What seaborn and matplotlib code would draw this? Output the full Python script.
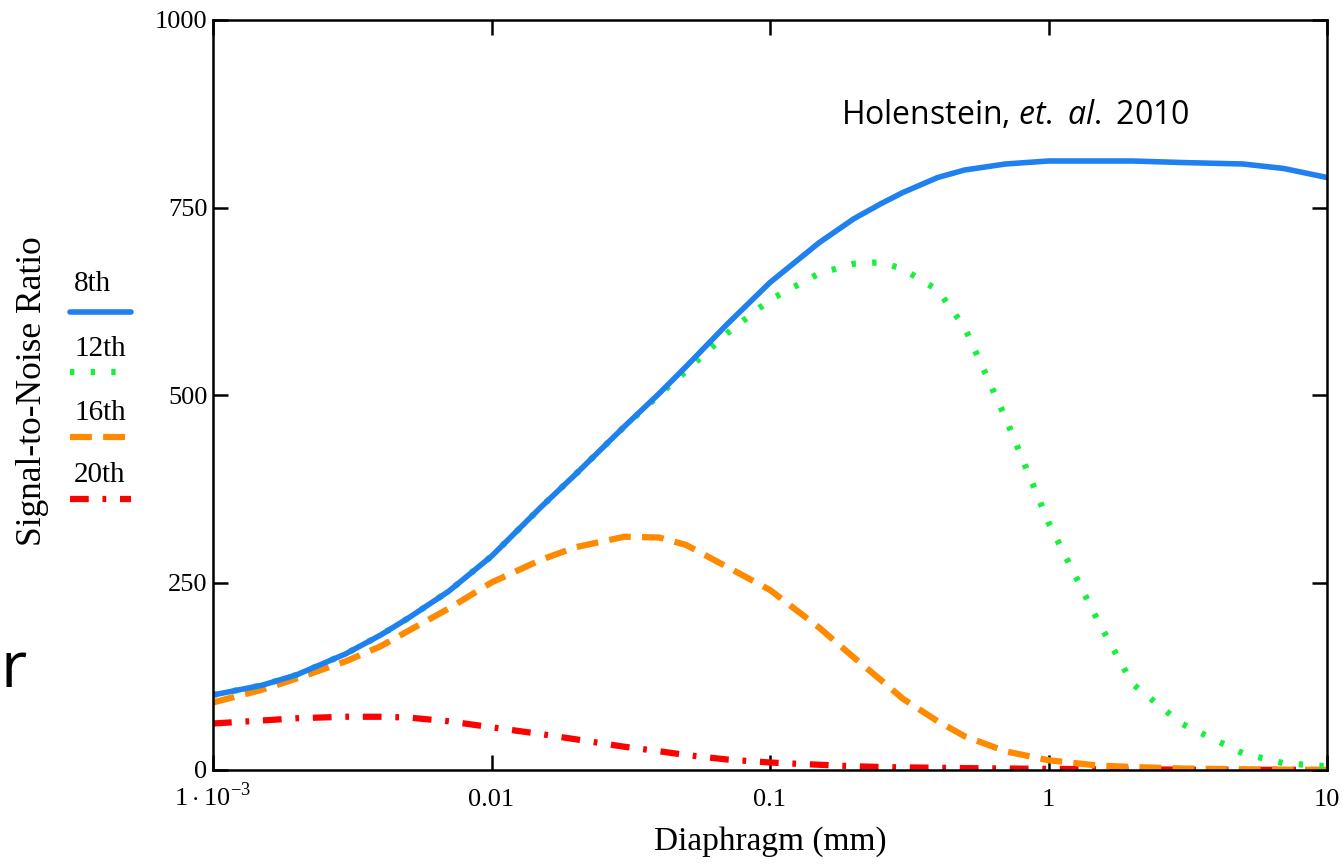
import matplotlib
matplotlib.use("Agg")
import matplotlib.pyplot as plt
from matplotlib.lines import Line2D
import seaborn as sns

# diaphragm sizes (mm) read at these positions
diaphragm = [0.001, 0.0015, 0.002, 0.003, 0.004, 0.005, 0.007, 0.01, 0.015, 0.02,
             0.03, 0.04, 0.05, 0.07, 0.1, 0.15, 0.2, 0.25, 0.3, 0.4,
             0.5, 0.7, 1, 1.5, 2, 3, 5, 7, 10]

snr_8th = [100, 113, 127, 155, 180, 202, 238, 285, 350, 394,
           458, 502, 538, 594, 650, 703, 735, 755, 770, 790,
           800, 808, 812, 812, 812, 810, 808, 802, 790]

snr_12th = [100, 113, 127, 155, 180, 202, 238, 285, 350, 394,
            458, 500, 532, 582, 627, 662, 675, 677, 668, 640,
            590, 470, 330, 200, 115, 62, 22, 9, 5]

snr_16th = [90, 107, 122, 145, 165, 185, 215, 250, 280, 297,
            311, 310, 300, 271, 240, 190, 150, 120, 95, 65,
            45, 25, 13, 6, 4, 2, 1, 0.5, 0]

snr_20th = [62, 66, 69, 71, 71, 70, 65, 57, 48, 41,
            31, 25, 20, 14, 10, 7, 5, 4, 3.5, 3,
            2.5, 2, 1.5, 1, 1, 0.5, 0.3, 0.2, 0]

series_names = ["8th", "12th", "16th", "20th"]
x_ticks = [0.001, 0.01, 0.1, 1, 10]
x_ticklabels = [r"$1\cdot10^{-3}$", "0.01", "0.1", "1", "10"]
y_ticks = [0, 250, 500, 750, 1000]

colors = ["#1f80f0", "#18f040", "#ff8a00", "#ff0000"]
styles = ["-", (0, (0.7, 2.6)), (0, (3.5, 1.8)), (0, (3.0, 2.2, 0.6, 2.2))]
widths = [4.0, 4.5, 4.5, 4.5]

sns.set_theme(style="white")
plt.rcParams["font.family"] = ["Liberation Serif", "DejaVu Serif"]
plt.rcParams["mathtext.fontset"] = "custom"
plt.rcParams["mathtext.rm"] = "Liberation Serif"
plt.rcParams["mathtext.it"] = "Open Sans:italic"

fig = plt.figure(figsize=(13.44, 8.64), dpi=100)
ax = fig.add_axes([213 / 1344, 1 - 770 / 864, 1114 / 1344, 750 / 864])

all_series = [snr_8th, snr_12th, snr_16th, snr_20th]
for vals, c, ls, lw in zip(all_series[::-1], colors[::-1], styles[::-1], widths[::-1]):
    sns.lineplot(x=diaphragm, y=vals, ax=ax, color=c, linestyle=ls, linewidth=lw)

ax.set_xscale("log")
ax.set_xlim(0.001, 10)
ax.set_ylim(0, 1000)
ax.set_xticks(x_ticks)
ax.set_xticklabels(x_ticklabels)
ax.minorticks_off()
ax.set_yticks(y_ticks)
ax.set_yticklabels([str(v) for v in y_ticks])

for s in ax.spines.values():
    s.set_color("black")
    s.set_linewidth(1.8)

ax.tick_params(axis="both", direction="in", length=11, width=1.8, color="black",
               labelsize=19, labelcolor="black")
ax.tick_params(axis="y", left=True, right=True, pad=4)
ax.tick_params(axis="x", bottom=True, top=True, pad=26)
for lab in ax.get_xticklabels():
    lab.set_verticalalignment("baseline")

ax.set_xlabel("Diaphragm (mm)", fontsize=24, color="black", labelpad=11)
ax.set_ylabel("")

fig.text(33 / 1344, 1 - 391 / 864, "Signal-to-Noise Ratio", rotation=90,
         fontsize=25.5, ha="center", va="center", color="black")

# legend: label above its line sample
legend_text_y = [291, 356, 420, 482]
legend_line_y = [312, 372, 437, 499]
for name, c, ls, lw, ty, ly in zip(series_names, colors, styles, widths,
                                   legend_text_y, legend_line_y):
    fig.text(74 / 1344, 1 - ty / 864, name, fontsize=21, color="black",
             ha="left", va="baseline")
    fig.add_artist(Line2D([70 / 1344, 131 / 1344], [1 - ly / 864, 1 - ly / 864],
                          transform=fig.transFigure, color=c, linestyle=ls,
                          linewidth=lw))

ax.text((841 - 213) / 1114, (770 - 124) / 750, "Holenstein, $\\it{et.\\ al.}$ 2010",
        transform=ax.transAxes, fontsize=23, family="Open Sans", color="black",
        ha="left", va="baseline")

fig.text(0, 1 - 687 / 864, "r", fontsize=46, family="Open Sans", color="black",
         ha="left", va="baseline")

fig.savefig("out.png", dpi=100)
